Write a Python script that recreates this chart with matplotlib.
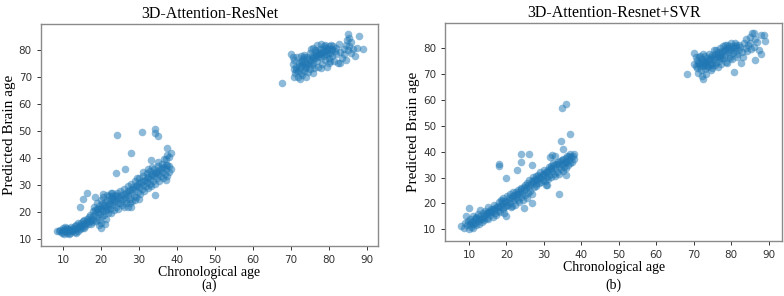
import matplotlib.pyplot as plt

# panel (a): 3D-Attention-ResNet
young_a = [(8.5, 13), (9, 12.8), (9.3, 13.5), (9.6, 12.5), (10, 13.2), (10, 14), (10.2, 11.8), (10.4, 12.9),
           (10.7, 13.6), (11, 12.4), (11, 14.1), (11.3, 13), (11.6, 13.8), (11.8, 12.2), (12, 13.4), (12.2, 14.5),
           (12.4, 12.8), (12.7, 13.9), (13, 12.6), (13, 14.8), (13.2, 13.6), (13.5, 15.2), (13.6, 14), (13.9, 13.1),
           (14, 15.8), (14.2, 14.5), (14.5, 13.8), (14.6, 16.1), (14.8, 15), (15, 14.2), (15.2, 16.5), (15.4, 15.4),
           (15.6, 17), (15.8, 14.8), (16, 16), (16.2, 17.5), (16.5, 15.6), (16.7, 18.2), (17, 16.8), (17.1, 19),
           (17.4, 17.5), (17.6, 16.2), (17.9, 18.5), (18, 20.5), (18, 17.2), (18.2, 22), (18.4, 19.4), (18.6, 16.5),
           (18.8, 21), (19, 18.2), (19, 23.5), (19.2, 20), (19.4, 17), (19.5, 22.4), (19.7, 19.2), (19.9, 21.5),
           (20, 16), (20, 24.5), (20.2, 18.5), (20.3, 22.8), (20.5, 20.3), (20.6, 25.5), (20.8, 19), (21, 21.8),
           (21, 23.8), (21.2, 17.5), (21.4, 20.6), (21.5, 24.6), (21.7, 22.2), (21.9, 19.8), (22, 26), (22.1, 23.2),
           (22.3, 21), (22.5, 24.8), (22.7, 19.5), (22.9, 22.5), (23, 27), (23.1, 25.2), (23.3, 20.8), (23.5, 23.6),
           (23.7, 26.3), (24, 22), (24, 24.6), (24.2, 27.2), (24.5, 21.2), (24.7, 25.5), (25, 23.4), (25, 27.8),
           (25.2, 26.2), (25.5, 22.5), (25.7, 24.8), (26, 28.5), (26, 21.8), (26.2, 25.6), (26.5, 27.2), (26.7, 23.5),
           (27, 29.8), (27, 26.4), (27.2, 22), (27.5, 28), (27.7, 25), (28, 30.5), (28, 27), (28.2, 24.2),
           (28.5, 29.2), (28.7, 26), (29, 31.5), (29, 28.4), (29.2, 25.5), (29.5, 30), (29.7, 27.5), (30, 32.5),
           (30, 29.3), (30.2, 26.8), (30.5, 31), (30.7, 28.5), (31, 33.5), (31, 30.2), (31.3, 27.8), (31.5, 32),
           (31.8, 29.5), (32, 34.5), (32, 31.2), (32.3, 28.8), (32.5, 33), (32.8, 30.5), (33, 35.2), (33, 32.2),
           (33.3, 29.8), (33.5, 34), (33.8, 31.5), (34, 36), (34, 33.2), (34.3, 30.5), (34.5, 35), (34.8, 32.5),
           (35, 37), (35, 34), (35.3, 31.5), (35.5, 35.8), (35.8, 33.2), (36, 38), (36, 35), (36.3, 32.8),
           (36.5, 36.6), (36.8, 34.2), (37, 39.5), (37, 36), (37.3, 33.5), (37.5, 37.5), (37.8, 35), (38, 40.5),
           (38, 37.2), (9.8, 12.2), (10.5, 14.6), (11.5, 11.9), (12.5, 13.2), (13.4, 12.4), (14.4, 15.2),
           (15.5, 14.1), (16.4, 16.8), (17.3, 15.4), (19.5, 15.2), (20, 14.2), (21, 15.6), (20.5, 26.8),
           (21.5, 26.5), (22.5, 26.9), (23, 25.8), (24.5, 23.2), (26.5, 24.5), (27.5, 23.5), (29.5, 32.5),
           (31, 34.8), (32.5, 35.8), (33.5, 36.8), (35, 38.5), (36.5, 39.5), (37.5, 41), (30, 25), (29, 24.5),
           (18.5, 20.8), (19.3, 21.2), (20.1, 21), (20.9, 22.6), (21.6, 21.2), (22.4, 22.8), (23.2, 24.4),
           (24.1, 25.8), (25.1, 25), (26.1, 26.8), (27.1, 27.8), (28.1, 28.6), (29.1, 29.6), (30.1, 30.8),
           (31.1, 31.6), (32.1, 32.8), (33.1, 33.6), (34.1, 34.4), (35.1, 35.4), (36.1, 36.2), (37.1, 37.4)]
outl_a = [(24.1, 48.6), (30.9, 49.6), (34.2, 50.8), (34.3, 49.2), (35.1, 48.2), (28, 41.8), (24, 34.4),
          (26.4, 35.8), (37.4, 43.7), (38.5, 42), (33.1, 39.2), (34.2, 26.3), (16.2, 27.2), (15.2, 24.8),
          (14.5, 21.9), (18.4, 25.6), (28, 21.9), (38.5, 36), (37, 32)]
old_a = [(67.6, 68), (70, 78.5), (70.5, 75), (70.8, 73), (71, 76.5), (71.2, 71.5), (71.5, 74), (71.8, 77.5),
         (72, 70), (72, 72.5), (72.2, 75.5), (72.5, 73.5), (72.7, 78), (73, 71), (73, 74.5), (73.2, 76.8),
         (73.5, 72.5), (73.7, 75.5), (74, 70), (74, 73.5), (74.2, 77.5), (74.5, 71.8), (74.7, 75), (75, 79),
         (75, 73), (75.2, 76.5), (75.5, 74.5), (75.7, 78), (76, 81), (76, 75.5), (76.2, 73.5), (76.5, 77),
         (76.7, 79.5), (77, 82), (77, 76), (77.2, 74), (77.5, 78.5), (77.7, 80.5), (78, 82.5), (78, 77.5),
         (78.2, 75), (78.5, 79.5), (78.7, 81.5), (79, 76.5), (79, 82), (79.2, 78.5), (79.5, 74), (79.7, 80),
         (80, 81.5), (80, 77), (80.2, 75.5), (80.5, 79), (80.7, 82), (81, 78), (81, 80.5), (81.5, 76),
         (82, 81), (82, 78.5), (82.5, 75.5), (83, 79.5), (83.5, 77), (84, 80.5), (84, 78.5), (84.5, 82),
         (85, 86), (85, 80), (85.3, 84.5), (85.5, 81.5), (86, 83), (86, 79), (86.5, 80.5), (87, 78),
         (87.5, 81), (88, 85.5), (89, 80.5), (83, 75.5), (84.5, 76.5), (76, 71.5), (72.5, 69.5), (71, 70),
         (78, 73.5), (71.5, 72.8), (72.8, 76.2), (73.8, 73.8), (74.6, 76.8), (75.8, 77.2), (76.8, 78.2),
         (77.8, 79.2), (78.8, 77.8), (79.8, 78.8), (80.8, 80.2), (81.8, 79.6), (77.2, 77.6), (76.4, 80.2),
         (79.2, 80.8), (80.4, 76.2), (73.4, 78.2), (70.6, 77.4), (82.8, 82.2), (84.8, 83.8),
         (72.1, 74.2), (73.1, 75.8), (74.1, 74.6), (75.1, 75.6), (76.1, 77.8), (77.1, 79.4), (78.1, 78.6),
         (79.1, 79.6), (80.1, 80.4), (81.1, 81.6), (72.6, 71.6), (73.6, 77.6), (75.4, 80.4), (78.4, 80.6)]

# panel (b): 3D-Attention-Resnet+SVR
young_b = [(8, 11.2), (8.8, 10.5), (9, 12.5), (9.3, 15), (9.5, 11.8), (9.8, 13.2), (10, 18.2), (10, 10),
           (10.2, 12.2), (10.4, 14), (10.6, 11), (10.8, 13), (11, 15), (11, 12), (11.2, 10.5), (11.5, 13.8),
           (11.7, 12.5), (12, 14.5), (12, 11.8), (12.3, 16), (12.5, 13.2), (12.8, 12), (13, 15.2), (13, 17.3),
           (13.2, 14), (13.5, 12.8), (13.7, 16.2), (14, 15), (14, 13.5), (14.3, 17), (14.5, 15.8), (14.8, 14.2),
           (15, 16.5), (15, 18.5), (15.2, 13.8), (15.5, 17.2), (15.7, 15.5), (16, 18), (16, 16.5), (16.3, 14.8),
           (16.5, 17.8), (16.8, 19.5), (17, 16.2), (17, 18.2), (17.3, 15.5), (17.5, 19), (17.8, 17.2), (18, 20.5),
           (18, 18.5), (18.3, 16.8), (18.5, 21.2), (18.7, 19.2), (19, 20), (19, 17.8), (19.2, 22), (19.5, 18.8),
           (19.7, 21), (20, 15), (20, 20.5), (20.2, 22.8), (20.5, 19.5), (20.7, 21.5), (21, 23.5), (21, 20.2),
           (21.2, 18.5), (21.5, 22.2), (21.7, 24.5), (22, 21.2), (22, 23.2), (22.3, 19.5), (22.5, 24.5),
           (22.7, 22), (23, 25.2), (23, 21.2), (23.2, 23.5), (23.5, 20.5), (23.7, 24.5), (24, 22.5), (24, 26),
           (24.3, 23.8), (24.5, 21.5), (24.8, 25.2), (25, 27), (25, 23.2), (25.2, 25.8), (25.5, 28), (25.7, 24.2),
           (26, 26.5), (26, 29), (26.3, 25), (26.5, 27.5), (26.8, 23.8), (27, 28.2), (27, 30.2), (27.3, 26.2),
           (27.5, 29), (27.8, 27.5), (28, 30.5), (28, 26.8), (28.3, 29.2), (28.5, 31), (28.8, 27.8), (29, 29.8),
           (29, 32), (29.3, 28.2), (29.5, 30.8), (29.8, 29), (30, 31.5), (30, 33), (30.3, 28.8), (30.5, 32),
           (30.8, 30.2), (31, 32.8), (31, 29.5), (31.3, 34), (31.5, 31), (31.8, 33.2), (32, 30.2), (32, 34.5),
           (32.3, 32.5), (32.5, 35.5), (32.8, 31.5), (33, 33.8), (33, 30.5), (33.3, 35.2), (33.5, 32.2),
           (33.8, 36), (34, 34), (34, 31.2), (34.3, 36.5), (34.5, 33.2), (34.8, 35.2), (35, 37.2), (35, 32.5),
           (35.3, 35.8), (35.5, 34), (35.8, 37.5), (36, 36.2), (36, 33.8), (36.3, 38.2), (36.5, 35), (36.8, 37),
           (37, 39), (37, 35.5), (37.3, 37.8), (37.5, 36.2), (37.8, 38.5), (38, 37.2), (38, 39.2),
           (10.5, 12.8), (11.8, 14.8), (12.8, 13.8), (13.8, 14.5), (14.8, 16.2), (15.8, 16.8), (16.8, 17.5),
           (17.8, 18.8), (18.8, 20.8), (19.8, 19.2), (20.8, 22.2), (21.8, 23), (22.8, 23.8), (23.8, 25.5),
           (24.8, 26.5), (25.8, 27.2), (26.8, 28.8), (27.8, 29.5), (28.8, 30.2), (29.8, 31.2), (30.8, 32.2),
           (31.8, 33.8), (32.8, 34.8), (33.8, 35.2), (34.8, 36.8), (35.8, 36), (36.8, 38.2), (19.5, 16.2),
           (21.5, 19.2), (25.5, 22.2), (30.5, 27.2)]
outl_b = [(18, 35.1), (18.1, 34.5), (20, 29.8), (22.8, 32.9), (23.8, 39.1), (26, 39.1), (24, 36.2),
          (26.8, 35), (24.6, 18.4), (26.8, 20.2), (34.1, 23.7), (34.7, 44.2), (37.1, 47), (35, 41.2),
          (31.6, 38), (32.2, 38.8), (33, 38.2), (36, 31), (30.9, 27.1), (34.9, 56.8), (36, 58.5)]
old_b = [(68.1, 69.9), (70.2, 78.4), (72.4, 68), (70, 74), (70.5, 73), (70.8, 75.5), (71, 72.5), (71.2, 74.5),
         (71.5, 76.5), (71.7, 73.2), (72, 71.5), (72, 74.8), (72.3, 76), (72.5, 73), (72.8, 75.2), (73, 72.2),
         (73, 77), (73.3, 74.2), (73.5, 76.2), (73.8, 72.8), (74, 75.5), (74, 78), (74.3, 73.8), (74.5, 76.8),
         (74.8, 74.5), (75, 77.5), (75, 72.5), (75.3, 79.2), (75.5, 75.8), (75.8, 77.8), (76, 74.2), (76, 79.5),
         (76.3, 76.5), (76.5, 78.5), (76.8, 75.2), (77, 80), (77, 77.2), (77.3, 74), (77.5, 78.8), (77.8, 80.8),
         (78, 76.2), (78, 79.5), (78.3, 81.2), (78.5, 77.5), (78.8, 80), (79, 74.5), (79, 81.5), (79.3, 78.5),
         (79.5, 80.8), (79.8, 77.2), (80, 82), (80, 79.5), (80.3, 76), (80.5, 81), (80.9, 70.9), (81, 79),
         (81, 82), (81.3, 80.5), (81.5, 78), (82, 81.5), (82, 79.2), (82.5, 80.5), (83, 78.5), (83.5, 82),
         (84, 80), (84, 83.5), (84.5, 81.5), (85, 84.5), (85.5, 85.8), (85, 82.2), (86, 86), (86.5, 75.5),
         (86, 80.5), (87, 82.5), (87.5, 79.5), (87.9, 78), (88, 85), (88.8, 85.1), (89, 83), (86.5, 83.5),
         (70.6, 76.8), (71.8, 77.2), (72.6, 77.8), (73.6, 73.2), (74.6, 71.8), (75.6, 73.6), (76.6, 72.8),
         (77.6, 76.4), (78.6, 74.8), (79.6, 76.2), (80.6, 78.2), (81.6, 76.6), (83.2, 76.8), (82.6, 74.2),
         (84.2, 78.8), (73.2, 70.2), (72.2, 69.2), (71.2, 70.6), (85.2, 79.6),
         (71.4, 73.8), (72.4, 74.4), (73.4, 75.2), (74.4, 75.8), (75.4, 76.6), (76.4, 77.4), (77.4, 78.2),
         (78.4, 78.8), (79.4, 79.6), (80.4, 80.2), (81.4, 81.2), (72.9, 73.6), (74.9, 73.4), (76.9, 76.2)]

panels = [
    ('3D-Attention-ResNet', '(a)', young_a + outl_a + old_a, [0.052, 0.169, 0.430, 0.750], (4.1, 93.0), (7.4, 89.8)),
    ('3D-Attention-Resnet+SVR', '(b)', young_b + outl_b + old_b, [0.568, 0.187, 0.430, 0.736], (3.7, 93.7), (5.6, 89.9)),
]

fig = plt.figure(figsize=(7.84, 2.96), dpi=100)
serif = 'Liberation Serif'

for title, tag, pts, rect, xl, yl in panels:
    ax = fig.add_axes(rect)
    xs = [p[0] for p in pts]
    ys = [p[1] for p in pts]
    ax.scatter(xs, ys, s=30, color='#1f77b4', alpha=0.5, linewidths=0)
    ax.set_xlim(*xl)
    ax.set_ylim(*yl)
    ax.set_xticks(range(10, 91, 10))
    ax.set_yticks(range(10, 81, 10))
    ax.tick_params(labelsize=7.5, colors='#333333', length=3, width=0.7)
    for sp in ax.spines.values():
        sp.set_color('#8a8a8a')
        sp.set_linewidth(1.0)
    ax.set_title(title, family=serif, fontsize=11.5, pad=4)
    ax.set_ylabel('Predicted Brain age', family=serif, fontsize=11, labelpad=2)
    ax.set_xlabel('Chronological age', family=serif, fontsize=10, labelpad=1)
    cx = rect[0] + rect[2] / 2
    fig.text(cx, 0.015, tag, family=serif, fontsize=10, ha='center', va='bottom')

plt.savefig('out.png', dpi=100)
